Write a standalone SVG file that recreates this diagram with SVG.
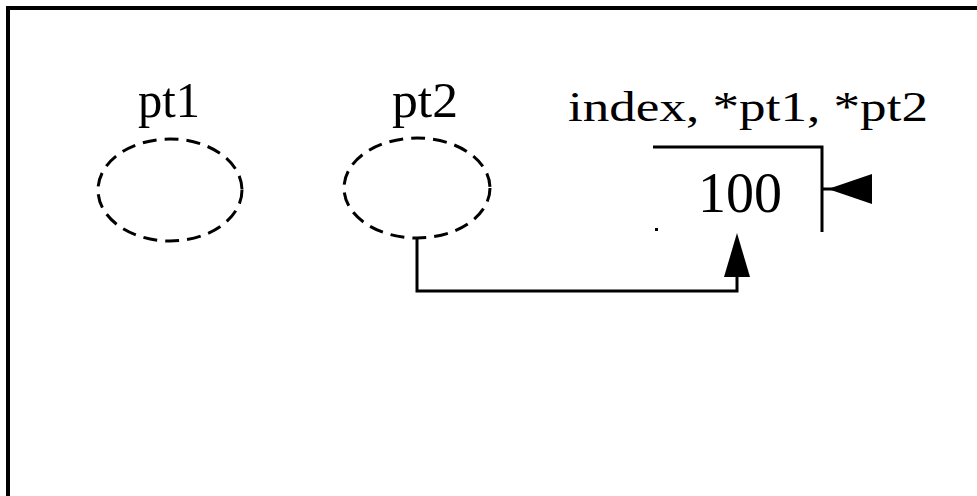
<svg xmlns="http://www.w3.org/2000/svg" width="977" height="496" viewBox="0 0 977 496">
<style>
.t{font-family:"Liberation Serif","Times New Roman",serif;fill:#000}
.ell{fill:none;stroke:#000;stroke-width:3;stroke-dasharray:14 8}
.ln{fill:none;stroke:#000;stroke-width:3}
.frame{fill:none;stroke:#000;stroke-width:4}
</style>
<rect x="0" y="0" width="977" height="496" fill="#fff"/>
<path class="frame" d="M8,496 V8 H977"/>
<g id="pt1">
<ellipse class="ell" cx="170" cy="190" rx="72" ry="51"/>
<text class="t" x="138" y="117" font-size="50" textLength="62" lengthAdjust="spacingAndGlyphs">pt1</text>
</g>
<g id="pt2">
<ellipse class="ell" cx="417" cy="188" rx="73" ry="50"/>
<text class="t" x="392" y="117" font-size="50" textLength="66" lengthAdjust="spacingAndGlyphs">pt2</text>
</g>
<g id="index">
<text class="t" x="568" y="121" font-size="42" textLength="360" lengthAdjust="spacingAndGlyphs">index, *pt1, *pt2</text>
<path class="ln" d="M653,147 H822 V232"/>
<text class="t" x="698" y="212" font-size="57" textLength="84" lengthAdjust="spacingAndGlyphs">100</text>
<rect x="655" y="228" width="3" height="3" fill="#000"/>
</g>
<g id="connectors">
<path class="ln" d="M417,238 V291 H737 V270"/>
<polygon points="737,233 724,277 750,277" fill="#000"/>
<path class="ln" d="M822,189 H850"/>
<polygon points="828,189 872,174 872,204" fill="#000"/>
</g>
</svg>
